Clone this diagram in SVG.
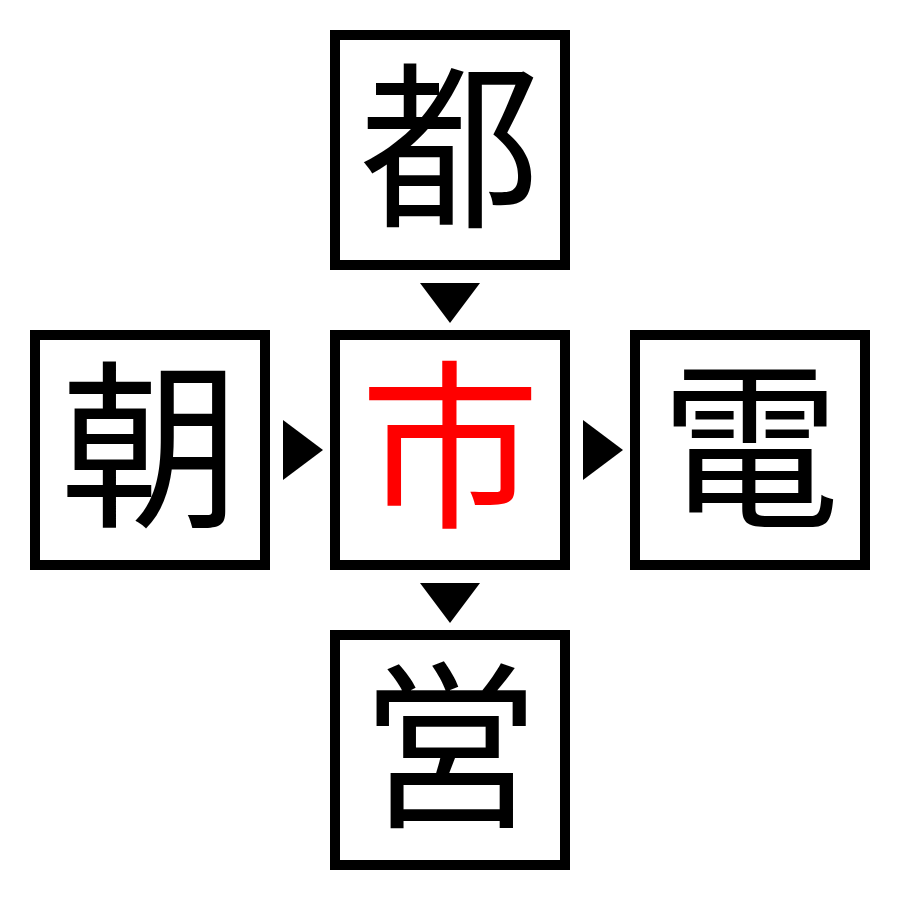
<svg xmlns="http://www.w3.org/2000/svg" width="900" height="900" viewBox="0 0 900 900">
<style>
.box{fill:#fff;stroke:#000;stroke-width:10}
.ch{font-family:"Liberation Serif","Noto Sans CJK JP",serif;font-size:180px;text-anchor:middle}
</style>
<rect width="900" height="900" fill="#fff"/>
<g id="n-top"><rect class="box" x="335" y="35" width="230" height="230"/><text class="ch" x="450" y="213">都</text></g>
<g id="n-left"><rect class="box" x="35" y="335" width="230" height="230"/><text class="ch" x="150" y="513">朝</text></g>
<g id="n-center"><rect class="box" x="335" y="335" width="230" height="230"/><text class="ch" x="450" y="513" fill="#f00">市</text></g>
<g id="n-right"><rect class="box" x="635" y="335" width="230" height="230"/><text class="ch" x="750" y="513">電</text></g>
<g id="n-bottom"><rect class="box" x="335" y="635" width="230" height="230"/><text class="ch" x="450" y="813">営</text></g>
<g id="connectors" fill="#000">
<polygon points="420,283 480,283 450,323"/>
<polygon points="420,583 480,583 450,623"/>
<polygon points="283,420 283,480 323,450"/>
<polygon points="583,420 583,480 623,450"/>
</g>
</svg>
